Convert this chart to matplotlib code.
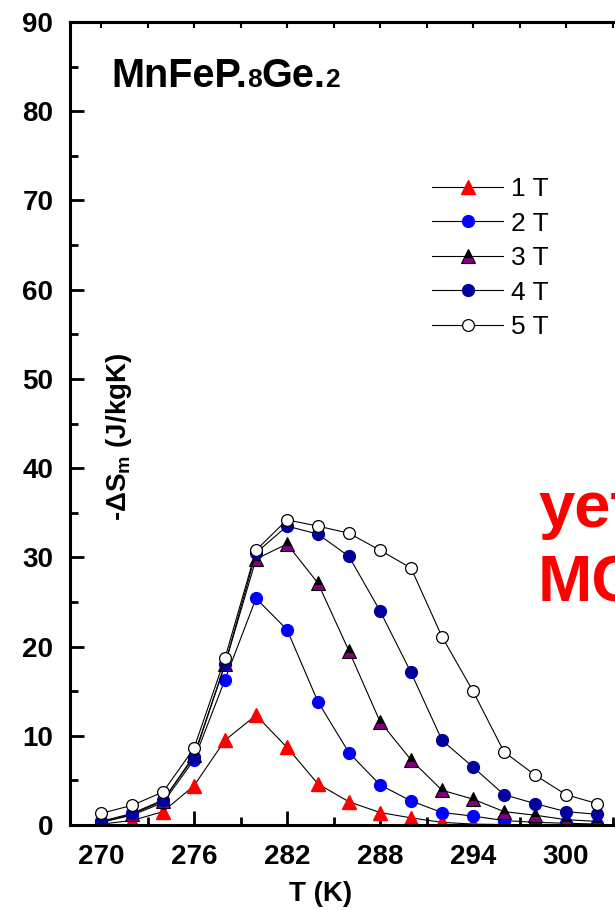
import matplotlib
matplotlib.use("Agg")
import matplotlib.pyplot as plt
from matplotlib.ticker import MultipleLocator, FixedLocator

plt.rcParams["font.family"] = ["Liberation Sans", "DejaVu Sans"]
plt.rcParams["mathtext.fontset"] = "custom"
plt.rcParams["mathtext.rm"] = "Liberation Sans:bold"
plt.rcParams["mathtext.default"] = "rm"

# temperature (K)
temps = [270, 272, 274, 276, 278, 280, 282, 284, 286, 288, 290, 292, 294, 296, 298, 300, 302]

# -dS_m (J/kgK) for each field
ds_1t = [0.1, 0.5, 1.5, 4.4, 9.5, 12.3, 8.7, 4.6, 2.6, 1.4, 0.8, 0.3, 0.1, 0.05, 0.05, 0.05, 0.05]
ds_2t = [0.3, 1.1, 2.5, 7.3, 16.3, 25.4, 21.9, 13.8, 8.1, 4.5, 2.7, 1.4, 1.0, 0.5, 0.3, 0.2, 0.1]
ds_3t = [0.3, 1.2, 2.7, 7.8, 18.0, 29.8, 31.5, 27.1, 19.5, 11.6, 7.3, 3.9, 2.9, 1.5, 1.1, 0.6, 0.4]
ds_4t = [0.4, 1.3, 2.8, 7.6, 18.0, 30.5, 33.5, 32.6, 30.1, 24.0, 17.1, 9.5, 6.5, 3.4, 2.4, 1.5, 1.2]
ds_5t = [1.3, 2.2, 3.7, 8.6, 18.7, 30.8, 34.2, 33.5, 32.7, 30.8, 28.8, 21.1, 15.0, 8.2, 5.6, 3.4, 2.4]

labels = ["1 T", "2 T", "3 T", "4 T", "5 T"]
x_ticks = [270, 276, 282, 288, 294, 300]

W, H = 615, 910
fig = plt.figure(figsize=(W / 100, H / 100), dpi=100)
# the plot runs on past the right edge of the picture, as in the original crop
ax = fig.add_axes([70 / W, 85 / H, 589 / W, 803 / H])

line_kw = dict(color="black", lw=0.8)
ax.plot(temps, ds_1t, marker="^", ms=10, mfc="#ff0000", mec="#ff0000", label=labels[0], **line_kw)
ax.plot(temps, ds_2t, marker="o", ms=8.5, mfc="#0000ff", mec="#0000ff", label=labels[1], **line_kw)
ax.plot(temps, ds_3t, marker="^", ms=9.5, fillstyle="bottom", mfc="#800080", mfcalt="black",
        mec="black", mew=0.8, label=labels[2], **line_kw)
ax.plot(temps, ds_4t, marker="o", ms=8.5, mfc="#00009c", mec="#00009c", label=labels[3], **line_kw)
ax.plot(temps, ds_5t, marker="o", ms=8.5, mfc="white", mec="black", mew=0.9, label=labels[4], **line_kw)

ax.set_xlim(268, 306)
ax.set_ylim(0, 90)
ax.xaxis.set_major_locator(FixedLocator(x_ticks))
ax.xaxis.set_minor_locator(MultipleLocator(3))
ax.yaxis.set_major_locator(MultipleLocator(10))
ax.yaxis.set_minor_locator(MultipleLocator(5))

for sp in ax.spines.values():
    sp.set_linewidth(2.2)

ax.tick_params(which="both", direction="in", width=2, top=False, right=False)
ax.tick_params(which="major", length=10)
ax.tick_params(which="minor", length=6)
ax.tick_params(axis="x", pad=14, labelsize=20)
ax.tick_params(axis="y", pad=12, labelsize=20)
for lab in ax.get_xticklabels() + ax.get_yticklabels():
    lab.set_fontweight("bold")

# short ticks along the top
top = ax.secondary_xaxis("top")
top.xaxis.set_major_locator(MultipleLocator(3))
top.tick_params(direction="in", length=4, width=1.5, labeltop=False)
top.spines["top"].set_linewidth(2.2)

fig.text(321 / W, 1 - 901 / H, "T (K)", ha="center", va="baseline", fontsize=20, fontweight="bold")
ax.text(0.083, 0.484, "-ΔS$_{\\rm m}$ (J/kgK)", transform=ax.transAxes, rotation=90,
        ha="center", va="center", fontsize=20, fontweight="bold")

leg = ax.legend(loc="upper left", bbox_to_anchor=(432 / W, 1 - 177 / H), bbox_transform=fig.transFigure,
                frameon=False, fontsize=19, handlelength=2.7, handletextpad=0.3, labelspacing=0.4,
                borderpad=0, borderaxespad=0, numpoints=1)

# compound name with small stoichiometry digits
renderer = fig.canvas.get_renderer()
x = 111
for s, size in [("MnFeP.", 28.5), ("8", 19), ("Ge.", 28.5), ("2", 19)]:
    t = fig.text(x / W, 1 - 87 / H, s, fontsize=size, fontweight="bold", ha="left", va="baseline")
    x += t.get_window_extent(renderer).width

fig.text(538 / W, 1 - 527 / H, "yet", color="#ff0000", fontsize=47, fontweight="bold", va="baseline")
fig.text(538 / W, 1 - 602 / H, "MC", color="#ff0000", fontsize=47, fontweight="bold", va="baseline")

fig.savefig("out.png", dpi=100)
